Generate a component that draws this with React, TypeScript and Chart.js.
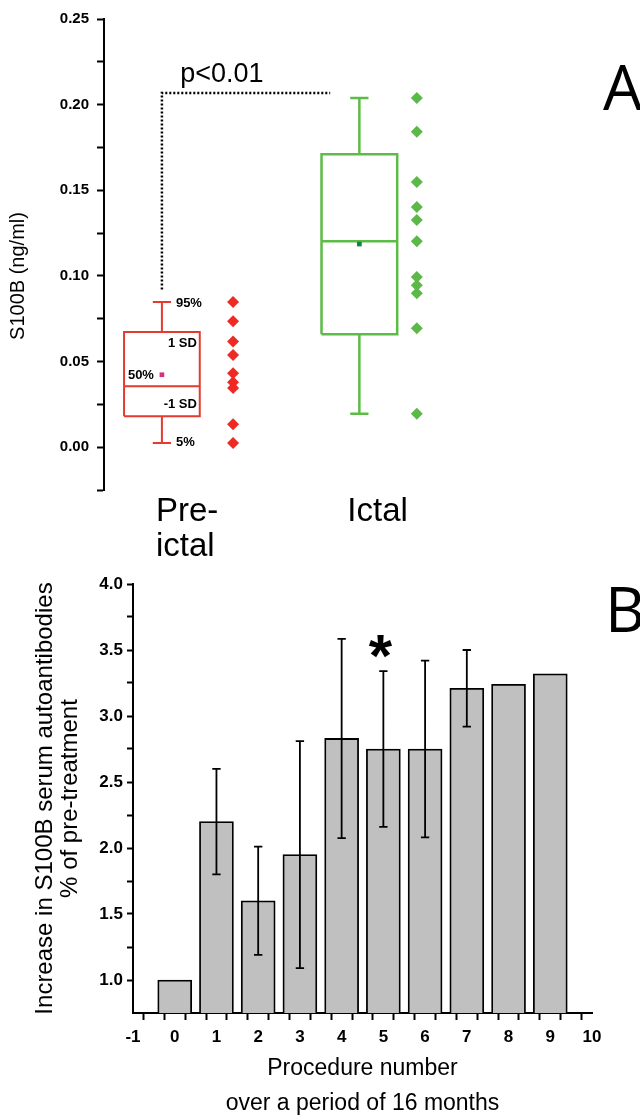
import React, { useEffect, useRef } from 'react';
import { Chart, registerables } from 'chart.js';

Chart.register(...registerables);

const FONT = "'Liberation Sans', Arial, sans-serif";
const LETTER_FONT = "'Open Sans', 'Liberation Sans', sans-serif";

// ---------- Panel A : S100B (ng/ml) ----------
const A_GROUPS = ['Pre-ictal', 'Ictal'];
const A_BOX_X = [1.27, 5.6];
const A_POINTS_X = [2.83, 6.86];
const A_P5 = [0.0025, 0.0195];
const A_MINUS_SD = [0.018, 0.066];
const A_MEDIAN = [0.0356, 0.1203];
const A_PLUS_SD = [0.0672, 0.1711];
const A_P95 = [0.0847, 0.2039];
const A_MEAN = [0.0423, 0.1186];
const A_PRE_VALUES = [0.0847, 0.0736, 0.0617, 0.0538, 0.0432, 0.0379, 0.0345, 0.0134, 0.0025];
const A_ICTAL_VALUES = [0.2039, 0.1842, 0.1549, 0.1403, 0.1326, 0.1203, 0.0993, 0.0946, 0.0899, 0.0695, 0.0195];
const A_Y_MAJOR = [0, 0.05, 0.1, 0.15, 0.2, 0.25];
const A_Y_LABELS = ['0.00', '0.05', '0.10', '0.15', '0.20', '0.25'];
const A_Y_MINOR = [-0.025, 0.025, 0.075, 0.125, 0.175, 0.225];
const A_SIG_TEXT = 'p<0.01';
const A_SIG_LEVEL = 0.2068;
const A_SIG_START = 0.092;
const A_SIG_END_X = 4.96;
const A_SIG_TEXT_X = 1.67;

// ---------- Panel B : antibodies ----------
const B_PROCEDURE = [0, 1, 2, 3, 4, 5, 6, 7, 8, 9];
const B_VALUES = [1.0, 2.2, 1.6, 1.95, 2.83, 2.75, 2.75, 3.21, 3.24, 3.32];
const B_ERRORS = [null, 0.4, 0.41, 0.86, 0.755, 0.59, 0.67, 0.29, null, null];
const B_SIGNIFICANT = 5;
const B_STAR_LEVEL = 3.57;
const B_Y_MAJOR = [1.0, 1.5, 2.0, 2.5, 3.0, 3.5, 4.0];
const B_Y_LABELS = ['1.0', '1.5', '2.0', '2.5', '3.0', '3.5', '4.0'];
const B_Y_MINOR = [1.25, 1.75, 2.25, 2.75, 3.25, 3.75];
const B_X_MAJOR = [-1, 0, 1, 2, 3, 4, 5, 6, 7, 8, 9, 10];
const B_X_LABELS = ['-1', '0', '1', '2', '3', '4', '5', '6', '7', '8', '9', '10'];
const B_X_MINOR = [-0.5, 0.5, 1.5, 2.5, 3.5, 4.5, 5.5, 6.5, 7.5, 8.5, 9.5];

const RED = '#e43a2f';
const RED_PT = '#ee2a24';
const GREEN = '#5dbb47';
const GREEN_PT = '#5cb849';
const MEAN_COLORS = ['#d4327e', '#13853b'];

const BOX_HALF = 0.83;
const CAP_HALF = 0.2;
const ERR_CAP_HALF = 0.1;

const labelFor = (majors: number[], labels: string[]) => (v: any) => {
  const i = majors.findIndex((m) => Math.abs(m - Number(v)) < 1e-9);
  return i >= 0 ? labels[i] : '';
};
const mergeTicks = (a: number[], b: number[]) => [...a, ...b].sort((p, q) => p - q).map((value) => ({ value }));

function boxSegments(i: number) {
  const x = A_BOX_X[i];
  const gap = { x, y: null as any };
  return [
    { x: x - BOX_HALF, y: A_MINUS_SD[i] }, { x: x + BOX_HALF, y: A_MINUS_SD[i] },
    { x: x + BOX_HALF, y: A_PLUS_SD[i] }, { x: x - BOX_HALF, y: A_PLUS_SD[i] },
    { x: x - BOX_HALF, y: A_MINUS_SD[i] }, gap,
    { x: x - BOX_HALF, y: A_MEDIAN[i] }, { x: x + BOX_HALF, y: A_MEDIAN[i] }, gap,
    { x, y: A_PLUS_SD[i] }, { x, y: A_P95[i] }, gap,
    { x: x - CAP_HALF, y: A_P95[i] }, { x: x + CAP_HALF, y: A_P95[i] }, gap,
    { x, y: A_MINUS_SD[i] }, { x, y: A_P5[i] }, gap,
    { x: x - CAP_HALF, y: A_P5[i] }, { x: x + CAP_HALF, y: A_P5[i] },
  ];
}

function errorSegments() {
  const pts: any[] = [];
  B_PROCEDURE.forEach((p, i) => {
    const e = B_ERRORS[i];
    if (e == null) return;
    const lo = B_VALUES[i] - e;
    const hi = B_VALUES[i] + e;
    pts.push({ x: p, y: lo }, { x: p, y: hi }, { x: p, y: null });
    pts.push({ x: p - ERR_CAP_HALF, y: hi }, { x: p + ERR_CAP_HALF, y: hi }, { x: p, y: null });
    pts.push({ x: p - ERR_CAP_HALF, y: lo }, { x: p + ERR_CAP_HALF, y: lo }, { x: p, y: null });
  });
  return pts;
}

const panelAText = {
  id: 'panelAText',
  afterDatasetsDraw(chart: any) {
    const { ctx, scales, chartArea } = chart;
    const x = scales.x;
    const y = scales.y;
    ctx.save();
    ctx.fillStyle = '#000';
    ctx.textBaseline = 'alphabetic';
    ctx.textAlign = 'left';
    ctx.font = `27px ${FONT}`;
    ctx.fillText(A_SIG_TEXT, x.getPixelForValue(A_SIG_TEXT_X), y.getPixelForValue(A_SIG_LEVEL) - 11);

    const cx = x.getPixelForValue(A_BOX_X[0]);
    ctx.font = `bold 13px ${FONT}`;
    ctx.textBaseline = 'middle';
    ctx.textAlign = 'left';
    ctx.fillText('95%', cx + 14, y.getPixelForValue(A_P95[0]) + 1);
    ctx.fillText('5%', cx + 14, y.getPixelForValue(A_P5[0]));
    ctx.fillText('50%', cx - 34, y.getPixelForValue(A_MEAN[0]) + 1);
    ctx.textAlign = 'right';
    ctx.fillText('1 SD', cx + 35, y.getPixelForValue(A_PLUS_SD[0]) + 11);
    ctx.fillText('-1 SD', cx + 35, y.getPixelForValue(A_MINUS_SD[0]) - 12);

    ctx.textBaseline = 'alphabetic';
    ctx.textAlign = 'left';
    ctx.font = `33px ${FONT}`;
    const bottom = chartArea.bottom;
    ctx.fillText('Pre-', cx - 6, bottom + 31);
    ctx.fillText('ictal', cx - 6, bottom + 66);
    ctx.fillText(A_GROUPS[1], x.getPixelForValue(A_BOX_X[1]) - 12, bottom + 31);

    ctx.font = `62px ${LETTER_FONT}`;
    ctx.fillText('A', chartArea.right + 43, 110);

    ctx.save();
    ctx.translate(18, 276);
    ctx.rotate(-Math.PI / 2);
    ctx.textAlign = 'center';
    ctx.textBaseline = 'middle';
    ctx.font = `20px ${FONT}`;
    ctx.fillText('S100B (ng/ml)', 0, 0);
    ctx.restore();
    ctx.restore();
  },
};

const panelBText = {
  id: 'panelBText',
  afterDatasetsDraw(chart: any) {
    const { ctx, scales, chartArea } = chart;
    ctx.save();
    ctx.fillStyle = '#000';
    ctx.textAlign = 'center';
    ctx.textBaseline = 'alphabetic';
    const size = 60;
    ctx.font = `bold ${size}px ${FONT}`;
    ctx.fillText('*', scales.x.getPixelForValue(B_SIGNIFICANT) - 3, scales.y.getPixelForValue(B_STAR_LEVEL) + 0.58 * size);
    ctx.textAlign = 'left';
    ctx.font = `62px ${LETTER_FONT}`;
    ctx.fillText('B', chartArea.right + 13, 67);
    ctx.restore();
  },
};

function PanelA() {
  const ref = useRef<HTMLCanvasElement>(null);
  useEffect(() => {
    if (!ref.current) return;
    const chart = new Chart(ref.current, {
      type: 'scatter',
      data: {
        datasets: [
          {
            type: 'scatter', label: 'Pre-ictal values',
            data: A_PRE_VALUES.map((v) => ({ x: A_POINTS_X[0], y: v })),
            pointStyle: 'rectRot', pointRadius: 6, backgroundColor: RED_PT, borderWidth: 0,
          },
          {
            type: 'scatter', label: 'Ictal values',
            data: A_ICTAL_VALUES.map((v) => ({ x: A_POINTS_X[1], y: v })),
            pointStyle: 'rectRot', pointRadius: 6, backgroundColor: GREEN_PT, borderWidth: 0,
          },
          ...A_GROUPS.map((g, i) => ({
            type: 'scatter', label: g + ' mean',
            data: [{ x: A_BOX_X[i], y: A_MEAN[i] }],
            pointStyle: 'rect', pointRadius: 3.3, backgroundColor: MEAN_COLORS[i], borderWidth: 0,
          })),
          ...A_GROUPS.map((g, i) => ({
            type: 'line', label: g + ' box',
            data: boxSegments(i),
            borderColor: i === 0 ? RED : GREEN, borderWidth: i === 0 ? 2 : 2.5,
            pointRadius: 0, spanGaps: false, tension: 0, fill: false,
            borderJoinStyle: 'miter', borderCapStyle: 'butt',
          })),
          {
            type: 'line', label: 'significance',
            data: [
              { x: A_BOX_X[0], y: A_SIG_START },
              { x: A_BOX_X[0], y: A_SIG_LEVEL },
              { x: A_SIG_END_X, y: A_SIG_LEVEL },
            ],
            borderColor: '#000', borderWidth: 2.5, borderDash: [2, 2],
            pointRadius: 0, tension: 0, fill: false,
          },
        ] as any,
      },
      options: {
        responsive: false,
        animation: false,
        events: [],
        layout: { padding: { top: 19, right: 80, bottom: 75, left: 0 } },
        plugins: { legend: { display: false }, tooltip: { enabled: false } },
        scales: {
          x: { type: 'linear', min: 0, max: 10, display: false },
          y: {
            type: 'linear', min: -0.025, max: 0.25,
            afterBuildTicks: (s: any) => { s.ticks = mergeTicks(A_Y_MAJOR, A_Y_MINOR); },
            afterFit: (s: any) => { s.width = 104; },
            ticks: {
              autoSkip: false, padding: 8, color: '#000',
              font: { family: FONT, size: 15, weight: 'bold' },
              callback: labelFor(A_Y_MAJOR, A_Y_LABELS),
            },
            grid: { drawOnChartArea: false, drawTicks: true, tickLength: 7, tickColor: '#000', tickWidth: 2 },
            border: { color: '#000', width: 2 },
          },
        },
      } as any,
      plugins: [panelAText],
    });
    return () => chart.destroy();
  }, []);
  return <canvas ref={ref} width={640} height={565} style={{ position: 'absolute', left: 0, top: 0, width: 640, height: 565 }} />;
}

function PanelB() {
  const ref = useRef<HTMLCanvasElement>(null);
  useEffect(() => {
    if (!ref.current) return;
    const chart = new Chart(ref.current, {
      type: 'bar',
      data: {
        datasets: [
          {
            type: 'line', label: 'SD',
            data: errorSegments(),
            borderColor: '#000', borderWidth: 1.8, pointRadius: 0, spanGaps: false,
            tension: 0, fill: false, order: 0, borderCapStyle: 'butt',
          },
          {
            type: 'bar', label: 'Increase',
            data: B_PROCEDURE.map((p, i) => ({ x: p, y: B_VALUES[i] })),
            backgroundColor: '#c0c0c0', borderColor: '#000', borderWidth: 1.8,
            barThickness: 34, order: 1,
          },
        ] as any,
      },
      options: {
        responsive: false,
        animation: false,
        events: [],
        layout: { padding: { top: 19, right: 48, bottom: 0, left: 0 } },
        plugins: { legend: { display: false }, tooltip: { enabled: false } },
        scales: {
          x: {
            type: 'linear', min: -1, max: 10, offset: false,
            afterBuildTicks: (s: any) => { s.ticks = mergeTicks(B_X_MAJOR, B_X_MINOR); },
            afterFit: (s: any) => { s.height = 108; },
            ticks: {
              autoSkip: false, maxRotation: 0, padding: 7, color: '#000',
              font: { family: FONT, size: 17, weight: 'bold' },
              callback: labelFor(B_X_MAJOR, B_X_LABELS),
            },
            grid: { drawOnChartArea: false, drawTicks: true, tickLength: 7, tickColor: '#000', tickWidth: 2 },
            border: { color: '#000', width: 2 },
            title: {
              display: true, color: '#000',
              text: ['Procedure number', 'over a period of 16 months'],
              font: { family: FONT, size: 23, lineHeight: 35 / 23 },
              padding: { top: 0, bottom: 0 },
            },
          },
          y: {
            type: 'linear', min: 0.75, max: 4.0,
            afterBuildTicks: (s: any) => { s.ticks = mergeTicks(B_Y_MAJOR, B_Y_MINOR); },
            afterFit: (s: any) => { s.width = 133; },
            ticks: {
              autoSkip: false, padding: 4, color: '#000',
              font: { family: FONT, size: 17, weight: 'bold' },
              callback: labelFor(B_Y_MAJOR, B_Y_LABELS),
            },
            grid: { drawOnChartArea: false, drawTicks: true, tickLength: 6, tickColor: '#000', tickWidth: 2 },
            border: { color: '#000', width: 2 },
            title: {
              display: true, color: '#000',
              text: ['Increase in S100B serum autoantibodies', '% of pre-treatment'],
              font: { family: FONT, size: 24, lineHeight: 25 / 24 },
              padding: { top: 32.5, bottom: 0 },
            },
          },
        },
      } as any,
      plugins: [panelBText],
    });
    return () => chart.destroy();
  }, []);
  return <canvas ref={ref} width={640} height={556} style={{ position: 'absolute', left: 0, top: 565, width: 640, height: 556 }} />;
}

export default function App() {
  return (
    <div style={{ position: 'absolute', left: 0, top: 0, width: 640, height: 1115, overflow: 'hidden', background: '#fff' }}>
      <PanelA />
      <PanelB />
    </div>
  );
}
